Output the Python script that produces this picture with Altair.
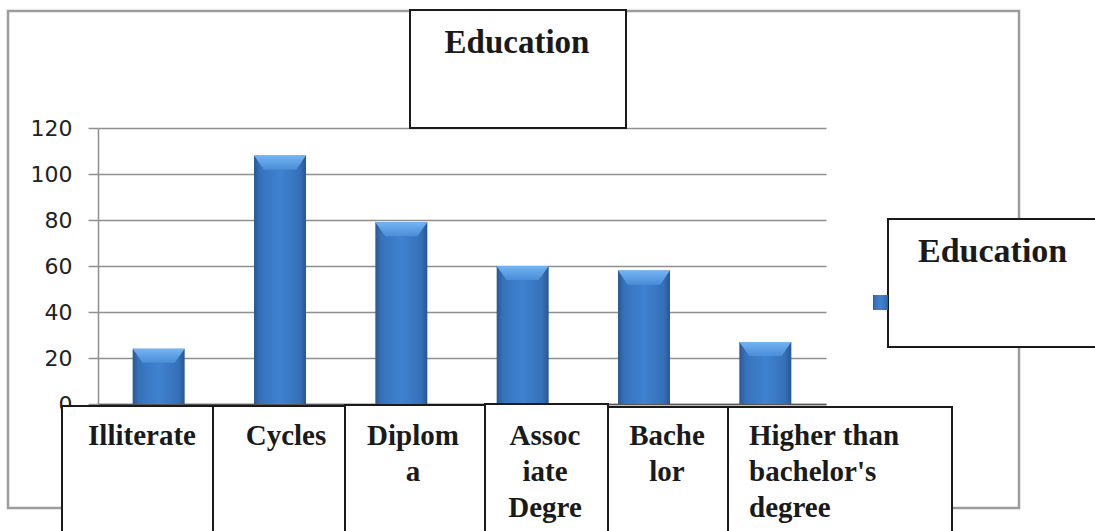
import altair as alt
import pandas as pd

# ---- data -------------------------------------------------------------
categories = ["Illiterate", "Cycles", "Diploma", "Associate Degree",
              "Bachelor", "Higher than bachelor's degree"]
counts = [24, 108, 79, 60, 58, 27]
y_ticks = [0, 20, 40, 60, 80, 100, 120]
series_name = "Education"
chart_title = "Education"
# category names as wrapped inside the label boxes
label_lines = [["Illiterate"], ["Cycles"], ["Diplom", "a"],
               ["Assoc", "iate", "Degre"], ["Bache", "lor"],
               ["Higher than", "bachelor's", "degree"]]

# ---- layout (pixels, relative to the plot origin) ----------------------
W, H = 728, 276
PAD = {"left": 98, "top": 128, "right": 269, "bottom": 127}
box_left = [-36, 115, 247, 387, 510, 630]
box_right = [115, 247, 387, 510, 630, 854]
box_top = [278, 278, 277, 276, 279, 279]
box_bottom = 420
text_x = [44, 188, 315, 447, 569, 651]
text_align = ["center", "center", "center", "center", "center", "left"]
text_baseline_y = 317

SERIF = "Liberation Serif"
INK = "#1a1a1a"
GRID = "#8f8f8f"

bar_fill = alt.Gradient(
    gradient="linear", x1=0, x2=1, y1=0, y2=0,
    stops=[alt.GradientStop(offset=0, color="#2a5891"),
           alt.GradientStop(offset=0.12, color="#3672bb"),
           alt.GradientStop(offset=0.5, color="#3f82d0"),
           alt.GradientStop(offset=0.88, color="#3570b8"),
           alt.GradientStop(offset=1, color="#2a5690")])
bevel_fill = alt.Gradient(
    gradient="linear", x1=0, x2=0, y1=0, y2=1,
    stops=[alt.GradientStop(offset=0, color="#74b4f2"),
           alt.GradientStop(offset=1, color="#4a8dd8")])
# trapezoid bevel shape, unit coordinates (scaled by the point size)
bevel_shape = "M -1 0 L 1 0 L 0.62 0.54 L -0.62 0.54 Z"

df = pd.DataFrame({"category": categories, "count": counts})
one = pd.DataFrame({"k": [0]})

x_enc = alt.X("category:N", sort=categories,
              scale=alt.Scale(paddingInner=0, paddingOuter=0),
              axis=alt.Axis(labels=False, ticks=False, title=None,
                            domainColor="#555555", domainWidth=1.5))
y_scale = alt.Scale(domain=[0, 120], nice=False)

bars = alt.Chart(df).mark_bar(size=52, color=bar_fill).encode(
    x=x_enc,
    y=alt.Y("count:Q", scale=y_scale,
            axis=alt.Axis(values=y_ticks, title=None, grid=True,
                          gridColor=GRID, gridWidth=1.5,
                          tickSize=10, tickColor=GRID, tickWidth=1.5,
                          domainColor=GRID, domainWidth=1.5,
                          labelFont="DejaVu Sans", labelFontSize=22,
                          labelColor="#222222", labelPadding=16)),
)

# lighter bevel along the top of each bar
bevel = alt.Chart(df).mark_point(
    shape=bevel_shape, size=2704, filled=True, fill=bevel_fill,
    opacity=1, strokeWidth=0,
).encode(
    x=alt.X("category:N", sort=categories), y=alt.Y("count:Q", scale=y_scale),
)

layers = [bars, bevel]

# outer chart border
layers.append(alt.Chart(one).mark_rect(fill=None, stroke="#9c9c9c", strokeWidth=2.5).encode(
    x=alt.value(-90), x2=alt.value(921), y=alt.value(-117), y2=alt.value(380)))

# category label boxes
for i in range(len(categories)):
    layers.append(alt.Chart(one).mark_rect(fill="white", stroke=INK, strokeWidth=2).encode(
        x=alt.value(box_left[i]), x2=alt.value(box_right[i]),
        y=alt.value(box_top[i]), y2=alt.value(box_bottom)))
for i, lines in enumerate(label_lines):
    layers.append(alt.Chart(one).mark_text(
        text=lines, font=SERIF, fontWeight="bold", fontSize=29, color=INK,
        align=text_align[i], baseline="alphabetic", lineHeight=36).encode(
        x=alt.value(text_x[i]), y=alt.value(text_baseline_y)))

# title box
layers.append(alt.Chart(one).mark_rect(fill="white", stroke=INK, strokeWidth=2).encode(
    x=alt.value(312), x2=alt.value(528), y=alt.value(-118), y2=alt.value(0)))
layers.append(alt.Chart(one).mark_text(
    text=chart_title, font=SERIF, fontWeight="bold", fontSize=33, color=INK,
    align="center", baseline="alphabetic").encode(x=alt.value(419), y=alt.value(-75)))

# legend box
layers.append(alt.Chart(one).mark_rect(fill="white", stroke=INK, strokeWidth=2).encode(
    x=alt.value(790), x2=alt.value(1010), y=alt.value(91), y2=alt.value(219)))
layers.append(alt.Chart(one).mark_rect(color=bar_fill).encode(
    x=alt.value(775), x2=alt.value(790), y=alt.value(167), y2=alt.value(182)))
layers.append(alt.Chart(one).mark_text(
    text=series_name, font=SERIF, fontWeight="bold", fontSize=34, color=INK,
    align="left", baseline="alphabetic").encode(x=alt.value(820), y=alt.value(134)))

chart = alt.layer(*layers).properties(
    width=W, height=H, padding=PAD,
    autosize=alt.AutoSizeParams(type="none"),
    background="white",
).configure_view(stroke=None)

chart.save("out.html", embed_options={"renderer": "svg", "actions": False})
